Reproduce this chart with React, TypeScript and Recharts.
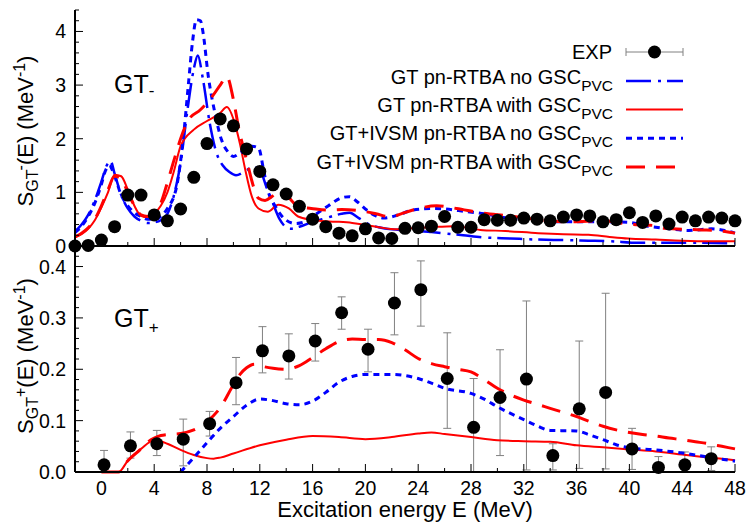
import React from "react";
import { ComposedChart, Line, Scatter, XAxis, YAxis, ErrorBar } from "recharts";

const FONT = "'Liberation Sans', Arial, Helvetica, sans-serif";
const BLUE = "#0000ff";
const RED = "#ff0000";
const GREY = "#808080";

// axes
const xDomain = [-2, 48];
const xLabels = [0, 4, 8, 12, 16, 20, 24, 28, 32, 36, 40, 44, 48];
const topYLabels = [0, 1, 2, 3, 4];
const botYLabels = [0, 0.1, 0.2, 0.3, 0.4];

// minor tick positions (every 2 MeV, every 0.2 and 0.02)
const xTicks = Array.from({ length: 26 }, (_, i) => -2 + 2 * i);
const topYTicks = Array.from({ length: 23 }, (_, i) => +(i * 0.2).toFixed(2));
const botYTicks = Array.from({ length: 23 }, (_, i) => +(i * 0.02).toFixed(3));

const legendNames = [
	"GT pn-RTBA no GSC",
	"GT pn-RTBA with GSC",
	"GT+IVSM pn-RTBA no GSC",
	"GT+IVSM pn-RTBA with GSC",
];

// GT- experiment
const topExpE = [
	-2, -1, 0, 1, 2, 3, 4, 5, 6, 7, 8, 9, 10, 11, 12, 13, 14, 15, 16, 17, 18, 19, 20, 21, 22, 23,
	24, 25, 26, 27, 28, 29, 30, 31, 32, 33, 34, 35, 36, 37, 38, 39, 40, 41, 42, 43, 44, 45, 46, 47, 48,
];
const topExpS = [
	0, 0.01, 0.11, 0.36, 0.95, 0.95, 0.58, 0.47, 0.69, 1.28, 1.91, 2.37, 2.24, 1.81, 1.39, 1.14, 0.97,
	0.74, 0.5, 0.36, 0.24, 0.19, 0.32, 0.15, 0.14, 0.33, 0.34, 0.37, 0.55, 0.35, 0.35, 0.49, 0.48,
	0.48, 0.52, 0.5, 0.47, 0.54, 0.58, 0.56, 0.45, 0.49, 0.62, 0.44, 0.56, 0.41, 0.54, 0.47, 0.54, 0.52, 0.47,
];

// GT- calculations [E, S]
const topGtNoGsc = [
	[-2, 0.27], [-1.5, 0.4], [-1, 0.58], [-0.5, 0.85], [0, 1.2], [0.4, 1.5], [0.7, 1.58], [1, 1.35],
	[1.5, 0.95], [2, 0.7], [2.5, 0.55], [3, 0.47], [3.5, 0.43], [4, 0.44], [4.5, 0.48], [5, 0.6],
	[5.5, 0.95], [6, 1.55], [6.5, 2.5], [7, 3.3], [7.3, 3.55], [7.7, 3.1], [8.2, 2.3], [8.7, 1.75],
	[9.2, 1.5], [9.7, 1.38], [10.2, 1.32], [10.8, 1.38], [11.5, 1.47], [12, 1.42], [12.5, 1.1],
	[12.9, 0.86], [13.5, 0.5], [14.3, 0.32], [15, 0.36], [16, 0.45], [17, 0.52], [18.2, 0.6],
	[18.8, 0.62], [19.5, 0.52], [20.3, 0.4], [21, 0.35], [22, 0.31], [23.6, 0.29], [25, 0.26],
	[27.4, 0.2], [29, 0.16], [31, 0.14], [33, 0.12], [35, 0.11], [36.9, 0.1], [38.5, 0.09],
	[40.7, 0.06], [43, 0.06], [45, 0.06], [48, 0.05],
];
const topGtGsc = [
	[-2, 0.16], [-1.5, 0.22], [-1, 0.32], [-0.5, 0.48], [0, 0.72], [0.5, 1.0], [1, 1.33], [1.5, 1.3],
	[2, 1.05], [2.5, 0.75], [3, 0.56], [3.5, 0.53], [4, 0.6], [4.5, 0.75], [5, 1.0], [5.5, 1.4],
	[6, 1.86], [7, 2.17], [8, 2.33], [9, 2.48], [9.5, 2.59], [10.1, 2.29], [10.5, 1.9], [10.9, 1.42],
	[11.4, 0.92], [11.9, 0.7], [12.6, 0.64], [13.4, 0.77], [14.2, 0.7], [14.9, 0.55], [15.9, 0.49],
	[17, 0.46], [18, 0.45], [19, 0.43], [20, 0.39], [21, 0.35], [22.4, 0.31], [23.5, 0.33],
	[24.9, 0.35], [26.7, 0.37], [28.7, 0.3], [30.6, 0.28], [33.1, 0.24], [35, 0.22], [36.9, 0.21],
	[38.5, 0.17], [39.9, 0.14], [42, 0.12], [44, 0.1], [46, 0.09], [48, 0.09],
];
const topIvsmNoGsc = [
	[-2, 0.25], [-1.5, 0.37], [-1, 0.55], [-0.5, 0.8], [0, 1.15], [0.3, 1.4], [0.6, 1.5], [1, 1.3],
	[1.5, 0.95], [2, 0.75], [2.5, 0.62], [3, 0.55], [3.5, 0.5], [4, 0.5], [4.5, 0.55], [5, 0.7],
	[5.7, 1.11], [6.2, 2.0], [6.6, 3.04], [6.9, 3.8], [7.2, 4.22], [7.5, 4.2], [7.7, 3.98], [8.1, 3.16],
	[8.6, 2.48], [9.1, 1.98], [9.6, 1.75], [10, 1.67], [10.6, 1.75], [11.4, 1.86], [11.9, 1.83],
	[12.3, 1.4], [12.6, 1.05], [13.2, 0.73], [13.9, 0.5], [14.7, 0.42], [15.4, 0.45], [16.3, 0.6],
	[17.2, 0.75], [18.2, 0.9], [18.8, 0.92], [19.4, 0.82], [20.1, 0.67], [20.8, 0.56], [21.4, 0.52],
	[22.5, 0.58], [23.6, 0.67], [25.2, 0.7], [27.7, 0.64], [29, 0.6], [30.7, 0.52], [33.1, 0.46],
	[36.1, 0.45], [38.2, 0.45], [39.9, 0.44], [41.4, 0.37], [43, 0.32], [44.5, 0.29], [46.2, 0.32],
	[47, 0.3], [48, 0.24],
];
const topIvsmGsc = [
	[-2, 0.17], [-1.5, 0.24], [-1, 0.34], [-0.5, 0.5], [0, 0.75], [0.5, 1.05], [1, 1.3], [1.5, 1.25],
	[2, 1.0], [2.5, 0.75], [3, 0.58], [3.5, 0.55], [4, 0.62], [4.5, 0.8], [4.9, 1.1], [5.5, 1.6],
	[6.1, 2.07], [6.6, 2.35], [7.5, 2.54], [8.4, 2.79], [9, 3.0], [9.5, 3.16], [10, 2.73], [10.4, 2.2],
	[11, 1.6], [11.6, 1.05], [11.9, 0.89], [12.4, 0.85], [12.9, 0.92], [13.4, 1.01], [13.9, 0.99],
	[14.4, 0.85], [14.9, 0.73], [15.9, 0.7], [17.2, 0.67], [18.2, 0.68], [20, 0.64], [20.8, 0.6],
	[21.9, 0.54], [22.7, 0.6], [23.6, 0.67], [25.4, 0.75], [26.9, 0.7], [28.7, 0.62], [31, 0.56],
	[33.1, 0.49], [35.6, 0.45], [37.9, 0.47], [39.9, 0.41], [41.9, 0.38], [42.7, 0.33], [45.5, 0.3],
	[46.5, 0.29], [48, 0.24],
];

// GT+ experiment
const botExpE = [
	0.2, 2.2, 4.2, 6.2, 8.2, 10.2, 12.2, 14.2, 16.2, 18.2, 20.2, 22.2, 24.2, 26.2, 28.2, 30.2, 32.2,
	34.2, 36.2, 38.2, 40.2, 42.2, 44.2, 46.2,
];
const botExpS = [
	0.014, 0.051, 0.055, 0.064, 0.094, 0.174, 0.236, 0.226, 0.255, 0.31, 0.239, 0.329, 0.355, 0.182,
	0.087, 0.145, 0.181, 0.032, 0.123, 0.155, 0.045, 0.009, 0.014, 0.026,
];
const botErrLo = [
	0.014, 0.024, 0.023, 0.052, 0.024, 0.043, 0.043, 0.045, 0.039, 0.032, 0.044, 0.062, 0.071, 0.097,
	0.087, 0.113, 0.177, 0.028, 0.116, 0.149, 0.04, 0.009, 0.014, 0.023,
];
const botErrHi = [
	0.028, 0.027, 0.026, 0.039, 0.024, 0.049, 0.047, 0.043, 0.034, 0.031, 0.039, 0.059, 0.056, 0.089,
	0.095, 0.093, 0.152, 0.023, 0.132, 0.193, 0.04, 0.021, 0.025, 0.023,
];

// GT+ calculations [E, S]
const botGtGsc = [
	[0, 0], [1.3, 0], [2, 0.022], [3, 0.045], [4, 0.062], [4.5, 0.06], [5, 0.055], [6, 0.043],
	[7, 0.033], [8, 0.027], [8.5, 0.026], [9, 0.028], [10, 0.036], [12, 0.052], [14, 0.063],
	[16, 0.07], [18, 0.068], [20, 0.064], [22, 0.068], [24, 0.075], [25, 0.077], [26, 0.074],
	[28, 0.068], [30, 0.062], [32, 0.06], [34, 0.059], [36, 0.052], [38, 0.048], [40, 0.044],
	[42, 0.04], [44, 0.034], [46, 0.028], [48, 0.023],
];
const botIvsmNoGsc = [
	[6, 0], [7, 0.028], [8, 0.057], [9, 0.085], [10, 0.108], [11, 0.13], [12, 0.142], [13, 0.139],
	[14, 0.133], [15, 0.131], [16, 0.138], [17, 0.155], [18, 0.175], [19, 0.186], [20, 0.19],
	[22, 0.19], [24, 0.182], [25, 0.173], [26, 0.163], [28, 0.153], [29, 0.142], [30, 0.127],
	[32, 0.102], [33, 0.09], [34, 0.081], [36, 0.08], [37, 0.072], [38, 0.063], [39, 0.053],
	[40, 0.047], [42, 0.043], [44, 0.037], [46, 0.029], [48, 0.021],
];
const botIvsmGsc = [
	[0, 0], [1.3, 0], [2, 0.022], [3, 0.045], [3.5, 0.058], [4, 0.066], [4.5, 0.071], [5, 0.073],
	[6, 0.075], [7, 0.082], [8, 0.098], [9, 0.125], [10, 0.17], [10.5, 0.19], [11, 0.203],
	[11.6, 0.21], [12, 0.207], [13, 0.202], [14, 0.2], [15, 0.207], [16, 0.223], [17, 0.24],
	[18, 0.254], [19, 0.259], [20, 0.258], [21, 0.258], [22, 0.252], [23, 0.238], [24, 0.221],
	[25, 0.211], [26, 0.205], [27, 0.2], [28, 0.195], [29, 0.18], [30, 0.163], [31, 0.15],
	[32, 0.14], [33, 0.132], [34, 0.124], [35, 0.116], [36, 0.108], [37, 0.098], [38, 0.089],
	[39, 0.082], [40, 0.077], [41, 0.073], [42, 0.07], [43, 0.066], [44, 0.063], [45, 0.059],
	[46, 0.055], [47, 0.05], [48, 0.045],
];

const pts = (arr: number[][]) => arr.map(([x, y]) => ({ x, y }));
const topExp = topExpE.map((x, i) => ({ x, y: topExpS[i] }));
const botExp = botExpE.map((x, i) => ({ x, y: botExpS[i], err: [botErrLo[i], botErrHi[i]] }));

const near = (list: number[], v: number) => list.some((m) => Math.abs(m - v) < 1e-6);

// inward ticks, gnuplot style
const XTick = (props: any) => {
	const { x, y, payload, up, label } = props;
	const v = payload.value;
	const major = near(xLabels, v);
	const len = major ? 8 : 4;
	const dir = up ? -1 : 1;
	return (
		<g>
			<line x1={x} x2={x} y1={y} y2={y + dir * len} stroke="#000" strokeWidth={1} />
			{label && major && (
				<text x={x} y={y + 23} textAnchor="middle" fontSize={19.5} fontFamily={FONT} fill="#000">
					{v}
				</text>
			)}
		</g>
	);
};

const YTick = (props: any) => {
	const { x, y, payload, right, majors, digits } = props;
	const v = payload.value;
	const major = near(majors, v);
	const len = major ? 8 : 4;
	const dir = right ? -1 : 1;
	return (
		<g>
			<line x1={x} x2={x + dir * len} y1={y} y2={y} stroke="#000" strokeWidth={1} />
			{!right && major && (
				<text x={x - 9} y={y} dy="0.36em" textAnchor="end" fontSize={19.5} fontFamily={FONT} fill="#000">
					{v.toFixed(digits)}
				</text>
			)}
		</g>
	);
};

const Dot = (p: any) => <circle cx={p.cx} cy={p.cy} r={6.5} fill="#000" />;

const lineStyles = [
	{ stroke: BLUE, strokeWidth: 2.5, strokeDasharray: "25 7 3 6" },
	{ stroke: RED, strokeWidth: 2, strokeDasharray: undefined },
	{ stroke: BLUE, strokeWidth: 3, strokeDasharray: "6 5" },
	{ stroke: RED, strokeWidth: 3, strokeDasharray: "19 11" },
];

const axisCommon = {
	type: "number" as const,
	tickSize: 0,
	tickMargin: 0,
	tickLine: false,
	interval: 0 as const,
};

const Frame = (yTicks: number[], yMajors: number[], domain: number[], digits: number, bottomLabels: boolean, bottomHeight: number) => [
	<XAxis key="xb" xAxisId="b" dataKey="x" domain={xDomain} ticks={xTicks} height={bottomHeight}
		{...axisCommon} axisLine={{ stroke: "#000", strokeWidth: 2 }} tick={<XTick up label={bottomLabels} />} />,
	<XAxis key="xt" xAxisId="t" orientation="top" dataKey="x" domain={xDomain} ticks={xTicks} height={0}
		{...axisCommon} axisLine={{ stroke: "#000", strokeWidth: 1.5 }} tick={<XTick />} />,
	<YAxis key="yl" yAxisId="l" dataKey="y" domain={domain} ticks={yTicks} width={75}
		{...axisCommon} axisLine={{ stroke: "#000", strokeWidth: 2 }} tick={<YTick majors={yMajors} digits={digits} />} />,
	<YAxis key="yr" yAxisId="r" orientation="right" dataKey="y" domain={domain} ticks={yTicks} width={0}
		{...axisCommon} axisLine={{ stroke: "#000", strokeWidth: 1.5 }} tick={<YTick right majors={yMajors} digits={digits} />} />,
];

const curve = (key: string, data: number[][], idx: number) => (
	<Line key={key} xAxisId="b" yAxisId="l" data={pts(data)} dataKey="y" type="monotone" dot={false}
		activeDot={false} isAnimationActive={false} {...lineStyles[idx]} />
);

const Legend = () => {
	const sx1 = 626;
	const sx2 = 683;
	const rows = [81, 109.5, 138.3, 167];
	const base = [83.5, 112, 140.3, 168.7];
	return (
		<g fontFamily={FONT} fill="#000">
			<text x={612} y={58.5} fontSize={20} textAnchor="end">EXP</text>
			<line x1={sx1} x2={sx2} y1={52} y2={52} stroke={GREY} strokeWidth={1} />
			<line x1={sx1} x2={sx1} y1={48} y2={56} stroke={GREY} strokeWidth={1} />
			<line x1={sx2} x2={sx2} y1={48} y2={56} stroke={GREY} strokeWidth={1} />
			<circle cx={654.5} cy={52} r={6.5} fill="#000" />
			{legendNames.map((name, i) => (
				<g key={name}>
					<text x={613} y={base[i]} fontSize={20} textAnchor="end">
						{name}
						<tspan dy={7} fontSize={15.5}>PVC</tspan>
					</text>
					<line x1={sx1} x2={sx2} y1={rows[i]} y2={rows[i]} {...lineStyles[i]} />
				</g>
			))}
		</g>
	);
};

const Overlay = () => (
	<svg width={750} height={525} style={{ position: "absolute", left: 0, top: 0, pointerEvents: "none" }}>
		<g fontFamily={FONT} fill="#000">
			<text x={114} y={93} fontSize={25}>
				GT<tspan dy={3} fontSize={17}>-</tspan>
			</text>
			<text x={114} y={327} fontSize={25}>
				GT<tspan dy={6} fontSize={17}>+</tspan>
			</text>
			<text transform="translate(33,131) rotate(-90)" textAnchor="middle" fontSize={22}>
				S<tspan dy={5} fontSize={16}>GT</tspan>
				<tspan dy={-12} fontSize={16}>-</tspan>
				<tspan dy={7}>(E) (MeV</tspan>
				<tspan dy={-8} fontSize={16}>-1</tspan>
				<tspan dy={8}>)</tspan>
			</text>
			<text transform="translate(33,356) rotate(-90)" textAnchor="middle" fontSize={22}>
				S<tspan dy={5} fontSize={16}>GT</tspan>
				<tspan dy={-12} fontSize={16}>+</tspan>
				<tspan dy={7}>(E) (MeV</tspan>
				<tspan dy={-8} fontSize={16}>-1</tspan>
				<tspan dy={8}>)</tspan>
			</text>
			<text x={405} y={517} textAnchor="middle" fontSize={22}>
				Excitation energy E (MeV)
			</text>
		</g>
		<Legend />
	</svg>
);

export default function App() {
	return (
		<div style={{ position: "absolute", left: 0, top: 0, width: 750, height: 525, background: "#fff" }}>
			<div style={{ position: "absolute", left: 0, top: 246 }}>
				<ComposedChart width={750} height={279} margin={{ top: 0, right: 15, left: 0, bottom: 0 }}>
					{Frame(botYTicks, botYLabels, [0, 0.44], 1, true, 53)}
					<Scatter xAxisId="b" yAxisId="l" data={botExp} dataKey="y" shape={<Dot />} isAnimationActive={false}>
						<ErrorBar dataKey="err" direction="y" width={4} stroke={GREY} strokeWidth={1} />
					</Scatter>
					{curve("b1", botGtGsc, 1)}
					{curve("b2", botIvsmNoGsc, 2)}
					{curve("b3", botIvsmGsc, 3)}
				</ComposedChart>
			</div>
			<div style={{ position: "absolute", left: 0, top: 0 }}>
				<ComposedChart width={750} height={262} margin={{ top: 10, right: 15, left: 0, bottom: 0 }}>
					{Frame(topYTicks, topYLabels, [0, 4.4], 0, false, 16)}
					<Scatter xAxisId="b" yAxisId="l" data={topExp} dataKey="y" shape={<Dot />} isAnimationActive={false} />
					{curve("t0", topGtNoGsc, 0)}
					{curve("t1", topGtGsc, 1)}
					{curve("t2", topIvsmNoGsc, 2)}
					{curve("t3", topIvsmGsc, 3)}
				</ComposedChart>
			</div>
			<Overlay />
		</div>
	);
}
